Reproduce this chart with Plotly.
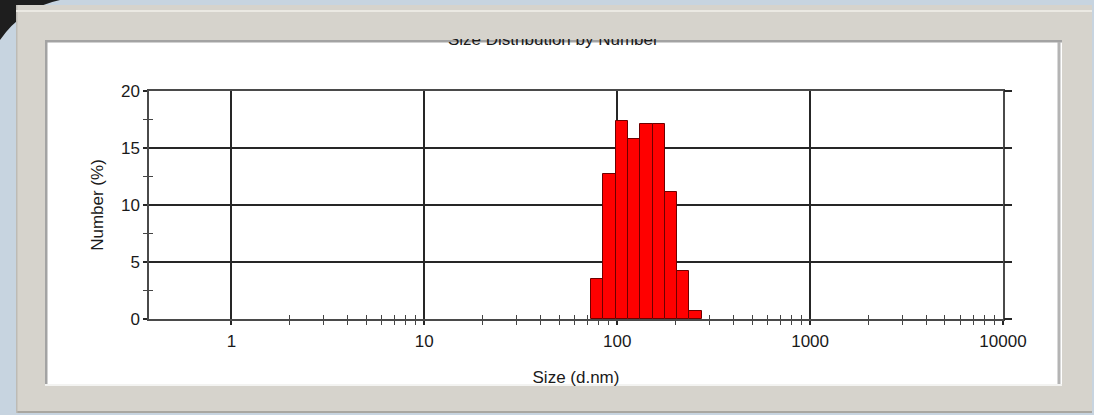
import numpy as np
import plotly.graph_objects as go

# ---------------- data ----------------
sizes_nm = [78.82, 91.28, 105.7, 122.4, 141.8, 164.2, 190.1, 220.2, 255.0]
number_pct = [3.5, 12.7, 17.4, 15.8, 17.1, 17.1, 11.1, 4.2, 0.7]
x_major_vals = [1, 10, 100, 1000, 10000]
x_major_text = ["1", "10", "100", "1000", "10000"]
y_major_vals = [0, 5, 10, 15, 20]
y_minor_vals = [2.5, 7.5, 12.5, 17.5]
title_text = "Size Distribution by Number"
x_title = "Size (d.nm)"
y_title = "Number (%)"

# ---------------- geometry ----------------
W, H = 1094, 415
L, R, T, B = 149, 91, 91, 96
PW, PH = W - L - R, H - T - B


def px(x):
    return (x - L) / PW


def py(y):
    return (H - B - y) / PH


log_sizes = np.log10(sizes_nm)
bin_width = float(np.mean(np.diff(log_sizes)))
x_major_log = np.log10(x_major_vals)
x_minor_log = np.log10([k * 10 ** d for d in range(0, 4) for k in range(2, 10)])
x_range = [-0.427, 4.0]
y_range = [0, 20]

FONT = "Liberation Sans, Arial, sans-serif"
FRAME = "#d6d3cc"
INK = "#1a1a1a"
GRID = "#262626"

fig = go.Figure()

fig.add_trace(go.Bar(
    x=log_sizes, y=number_pct, width=bin_width,
    marker=dict(color="#ff0000", line=dict(color="#6e0000", width=1)),
    showlegend=False, hoverinfo="skip",
))

# helper (empty) traces so that overlay axes are drawn
fig.add_trace(go.Scatter(x=[], y=[], xaxis="x2", yaxis="y", showlegend=False))
fig.add_trace(go.Scatter(x=[], y=[], xaxis="x", yaxis="y2", showlegend=False))
fig.add_trace(go.Scatter(x=[], y=[], xaxis="x", yaxis="y3", showlegend=False))

shapes = []
# dark blob at top-left of the background
shapes.append(dict(type="path", xref="paper", yref="paper", layer="below",
                   path=f"M {px(0)},{py(0)} L {px(60)},{py(0)} Q {px(22)},{py(8)} {px(0)},{py(40)} Z",
                   fillcolor="#1e1e1e", line=dict(width=0)))
# outer grey frame
shapes.append(dict(type="rect", xref="paper", yref="paper", layer="below",
                   x0=px(16), x1=px(1092), y0=py(5), y1=py(413),
                   fillcolor=FRAME, line=dict(width=0)))
shapes.append(dict(type="rect", xref="paper", yref="paper", layer="below",
                   x0=px(16), x1=px(1092), y0=py(411), y1=py(413),
                   fillcolor="#a9a7a1", line=dict(width=0)))
shapes.append(dict(type="rect", xref="paper", yref="paper", layer="below",
                   x0=px(16), x1=px(17.5), y0=py(5), y1=py(413),
                   fillcolor="#bdbbb5", line=dict(width=0)))
shapes.append(dict(type="line", xref="paper", yref="paper", layer="below",
                   x0=px(16), x1=px(1092), y0=py(11), y1=py(11),
                   line=dict(color="#ebe9e3", width=2)))
# inner white panel
shapes.append(dict(type="rect", xref="paper", yref="paper", layer="below",
                   x0=px(45), x1=px(1062), y0=py(40), y1=py(385),
                   fillcolor="#ffffff", line=dict(width=0)))
# bevel lines
shapes.append(dict(type="rect", xref="paper", yref="paper", layer="below",
                   x0=px(45), x1=px(1062), y0=py(40), y1=py(42.5),
                   fillcolor="#a3a3a3", line=dict(width=0)))
shapes.append(dict(type="rect", xref="paper", yref="paper", layer="below",
                   x0=px(45), x1=px(47.5), y0=py(40), y1=py(385),
                   fillcolor="#a3a3a3", line=dict(width=0)))
shapes.append(dict(type="rect", xref="paper", yref="paper", layer="below",
                   x0=px(1057.5), x1=px(1060.5), y0=py(42), y1=py(384),
                   fillcolor="#b4b4b4", line=dict(width=0)))
shapes.append(dict(type="rect", xref="paper", yref="paper", layer="below",
                   x0=px(45), x1=px(1062), y0=py(384), y1=py(386),
                   fillcolor="#f3f3f1", line=dict(width=0)))

# title, clipped at the top by the frame like in the screenshot
annotations = [dict(
    text=title_text, xref="paper", yref="paper",
    x=px(553), y=py(38), xanchor="center", yanchor="top",
    height=10, valign="bottom", borderpad=0, showarrow=False,
    font=dict(family=FONT, size=17, color=INK),
)]

fig.update_layout(
    width=W, height=H,
    margin=dict(l=L, r=R, t=T, b=B, pad=0),
    paper_bgcolor="#c7d4e0",
    plot_bgcolor="#ffffff",
    showlegend=False,
    bargap=0,
    shapes=shapes,
    annotations=annotations,
    font=dict(family=FONT, color=INK),
    xaxis=dict(
        range=x_range, tickmode="array", tickvals=x_major_log, ticktext=x_major_text,
        ticks="outside", ticklen=4, tickwidth=1.6, tickcolor=GRID,
        showgrid=True, gridcolor=GRID, gridwidth=1.6,
        showline=True, linecolor="#4a4a4a", linewidth=1.5, mirror=True,
        zeroline=False, tickfont=dict(family=FONT, size=17, color=INK),
        ticklabelstandoff=2, automargin=False,
        minor=dict(tickmode="array", tickvals=x_minor_log, ticks="outside",
                   ticklen=4, tickwidth=1, tickcolor="#444444", showgrid=False),
        title=dict(text=x_title, font=dict(family=FONT, size=17, color=INK), standoff=21),
    ),
    yaxis=dict(
        range=y_range, tickmode="array", tickvals=y_major_vals,
        ticks="outside", ticklen=4, tickwidth=1.6, tickcolor=GRID,
        showgrid=True, gridcolor=GRID, gridwidth=1.6,
        showline=True, linecolor="#4a4a4a", linewidth=1.5, mirror=True,
        zeroline=False, tickfont=dict(family=FONT, size=17, color=INK),
        automargin=False,
        minor=dict(tickmode="array", tickvals=y_minor_vals, ticks="outside",
                   ticklen=4, tickwidth=1, tickcolor="#444444", showgrid=False),
        title=dict(text=y_title, font=dict(family=FONT, size=17, color=INK), standoff=13),
    ),
    xaxis2=dict(
        overlaying="x", anchor="y", side="bottom", range=x_range,
        tickmode="array", tickvals=x_minor_log, ticks="inside", ticklen=4,
        tickwidth=1, tickcolor="#444444", showticklabels=False,
        showgrid=False, zeroline=False, showline=False, layer="below traces",
    ),
    yaxis2=dict(
        overlaying="y", anchor="x", side="left", range=y_range,
        tickmode="array", tickvals=y_minor_vals, ticks="inside", ticklen=4,
        tickwidth=1, tickcolor="#444444", showticklabels=False,
        showgrid=False, zeroline=False, showline=False,
    ),
    yaxis3=dict(
        overlaying="y", anchor="x", side="right", range=y_range,
        tickmode="array", tickvals=y_major_vals, ticks="outside", ticklen=8,
        tickwidth=1.6, tickcolor=GRID, showticklabels=False,
        showgrid=False, zeroline=False, showline=False,
    ),
)

fig.write_html(
    "out.html",
    config={"displayModeBar": False},
    post_script="document.body.style.margin='0';document.body.style.overflow='hidden';",
)
